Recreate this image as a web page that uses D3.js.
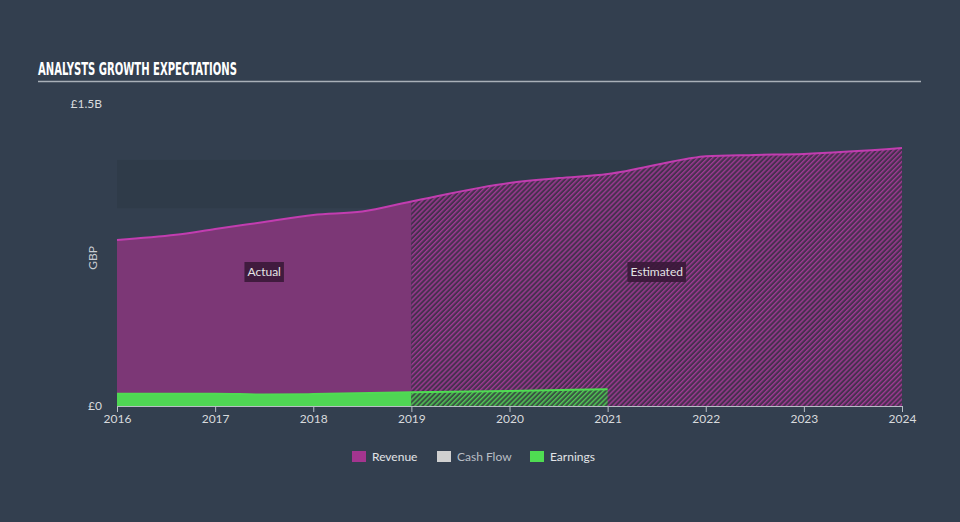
<!DOCTYPE html>
<html>
<head>
<meta charset="utf-8">
<script src="https://cdn.jsdelivr.net/npm/d3@7"></script>
<style>
  body { margin: 0; background: #333f4f; }
  svg { display: block; }
  .title { font-family: "DejaVu Sans Condensed", "Liberation Sans Narrow", "DejaVu Sans", sans-serif; font-weight: bold; }
  text { font-family: "Lato", "Noto Sans", sans-serif; }
</style>
</head>
<body>
<div id="chart"></div>
<script>

//********************* DATA ************************************

var years = [2016, 2016.6, 2017, 2017.5, 2018, 2018.5, 2019, 2020, 2020.5, 2021, 2021.8, 2022, 2022.5, 2023, 2024];
var revenue = [0.825, 0.850, 0.879, 0.914, 0.949, 0.966, 1.016, 1.108, 1.132, 1.152, 1.227, 1.241, 1.247, 1.252, 1.281];

var earnYears = [2016, 2017, 2017.5, 2018, 2019, 2020, 2021];
var earnings = [0.061, 0.061, 0.057, 0.059, 0.068, 0.075, 0.083];

var actualEnd = 2019;
var band = [0.983, 1.222];
var xTicks = [2016, 2017, 2018, 2019, 2020, 2021, 2022, 2023, 2024];
var yTicks = [0, 1.5];
var yTickLabels = ["£0", "£1.5B"];
var legendItems = ["Revenue", "Cash Flow", "Earnings"];
var legendColors = ["#a4358f", "#d0d0d0", "#4fdc52"];

//********************* DIMENSIONS ************************************

var W = 960, H = 522;
var margin = {top: 104, left: 117, right: 58, bottom: 116};
var width = W - margin.left - margin.right,
    height = H - margin.top - margin.bottom;

var svg = d3.select("#chart").append("svg")
    .attr("width", W)
    .attr("height", H);

var defs = svg.append("defs");

function hatch(id, bg, fg) {
  var p = defs.append("pattern")
      .attr("id", id)
      .attr("patternUnits", "userSpaceOnUse")
      .attr("width", 3.5).attr("height", 3.5)
      .attr("patternTransform", "rotate(45)");
  p.append("rect").attr("width", 3.5).attr("height", 3.5).attr("fill", bg);
  p.append("rect").attr("width", 1.4).attr("height", 3.5).attr("fill", fg);
}
hatch("hatchRev", "#47304f", "#9e3a93");
hatch("hatchEarn", "#3a5443", "#4fc954");

// title
svg.append("text")
    .attr("class", "title")
    .attr("x", 38).attr("y", 75)
    .attr("fill", "#ffffff")
    .attr("font-size", 17)
    .attr("textLength", 199)
    .attr("lengthAdjust", "spacingAndGlyphs")
    .text("ANALYSTS GROWTH EXPECTATIONS");

svg.append("line")
    .attr("x1", 38).attr("x2", 921)
    .attr("y1", 81.5).attr("y2", 81.5)
    .attr("stroke", "#a9b0b8").attr("stroke-width", 1.5);

var g = svg.append("g")
    .attr("transform", "translate(" + margin.left + "," + margin.top + ")");

var x = d3.scaleLinear().domain([2016, 2024]).range([0, width]);
var y = d3.scaleLinear().domain([0, 1.5]).range([height, 0]);

// darker band
g.append("rect")
    .attr("x", 0).attr("width", width)
    .attr("y", y(band[1])).attr("height", y(band[0]) - y(band[1]))
    .attr("fill", "#2f3b49");

var revData = years.map(function(d, i) { return {a: d, v: revenue[i]}; });
var earnData = earnYears.map(function(d, i) { return {a: d, v: earnings[i]}; });

var area = d3.area()
    .x(function(d) { return x(d.a); })
    .y0(y(0))
    .y1(function(d) { return y(d.v); })
    .curve(d3.curveMonotoneX);

var line = d3.line()
    .x(function(d) { return x(d.a); })
    .y(function(d) { return y(d.v); })
    .curve(d3.curveMonotoneX);

// clip paths for actual / estimated
defs.append("clipPath").attr("id", "clipA")
  .append("rect").attr("x", -2).attr("y", -10).attr("width", x(actualEnd) + 2).attr("height", height + 10);
defs.append("clipPath").attr("id", "clipE")
  .append("rect").attr("x", x(actualEnd)).attr("y", -10).attr("width", width - x(actualEnd) + 2).attr("height", height + 10);

g.append("path").datum(revData)
    .attr("d", area).attr("fill", "#7c3776")
    .attr("clip-path", "url(#clipA)");
g.append("path").datum(revData)
    .attr("d", area).attr("fill", "url(#hatchRev)")
    .attr("clip-path", "url(#clipE)");
g.append("path").datum(revData)
    .attr("d", line).attr("fill", "none")
    .attr("stroke", "#c23db0").attr("stroke-width", 2);

g.append("path").datum(earnData)
    .attr("d", area).attr("fill", "#4fd654")
    .attr("clip-path", "url(#clipA)");
g.append("path").datum(earnData)
    .attr("d", area).attr("fill", "url(#hatchEarn)")
    .attr("clip-path", "url(#clipE)");
g.append("path").datum(earnData)
    .attr("d", line).attr("fill", "none")
    .attr("stroke", "#4fdc52").attr("stroke-width", 2);

// axes
var xAxis = g.append("g")
    .attr("transform", "translate(0," + height + ")")
    .call(d3.axisBottom(x).tickValues(xTicks).tickFormat(d3.format("d")).tickSize(6).tickSizeOuter(0));
xAxis.select(".domain").attr("stroke", "#b8bec6");
xAxis.selectAll(".tick line").attr("stroke", "#b8bec6");
xAxis.selectAll(".tick text")
    .attr("fill", "#d8dadd").attr("font-size", 12)
    .attr("font-family", "Lato, 'Noto Sans', sans-serif").attr("dy", "0.65em");

g.selectAll(".ylab").data(yTicks).enter().append("text")
    .attr("class", "ylab")
    .attr("x", -15)
    .attr("y", function(d) { return y(d); })
    .attr("dy", "0.35em")
    .attr("text-anchor", "end")
    .attr("fill", "#d8dadd").attr("font-size", 12)
    .text(function(d, i) { return yTickLabels[i]; });

g.append("text")
    .attr("transform", "translate(-20," + (258 - margin.top) + ") rotate(-90)")
    .attr("text-anchor", "middle")
    .attr("fill", "#c8ccd2").attr("font-size", 12)
    .text("GBP");

// Actual / Estimated tags
function tag(label, cx) {
  var t = g.append("g").attr("transform", "translate(" + cx + "," + (272 - margin.top) + ")");
  var txt = t.append("text").attr("text-anchor", "middle").attr("dy", "0.35em")
      .attr("fill", "#e4e4e4").attr("font-size", 12).text(label);
  var bb = txt.node().getBBox();
  t.insert("rect", "text")
      .attr("x", bb.x - 3).attr("y", -10).attr("width", bb.width + 6).attr("height", 20)
      .attr("fill", "#3a1838").attr("opacity", 0.9);
}
tag("Actual", x(2016) + (x(actualEnd) - x(2016)) / 2);
tag("Estimated", x(actualEnd) + (width - x(actualEnd)) / 2);

// legend
var lx = [352, 437, 530];
var legend = svg.append("g");
legendItems.forEach(function(name, i) {
  legend.append("rect")
      .attr("x", lx[i]).attr("y", 451)
      .attr("width", 14).attr("height", 11)
      .attr("fill", legendColors[i]);
  legend.append("text")
      .attr("x", lx[i] + 20).attr("y", 456.5)
      .attr("dy", "0.35em")
      .attr("fill", i === 1 ? "#b9bec5" : "#e2e4e7")
      .attr("font-size", 12)
      .text(name);
});

</script>
</body>
</html>
